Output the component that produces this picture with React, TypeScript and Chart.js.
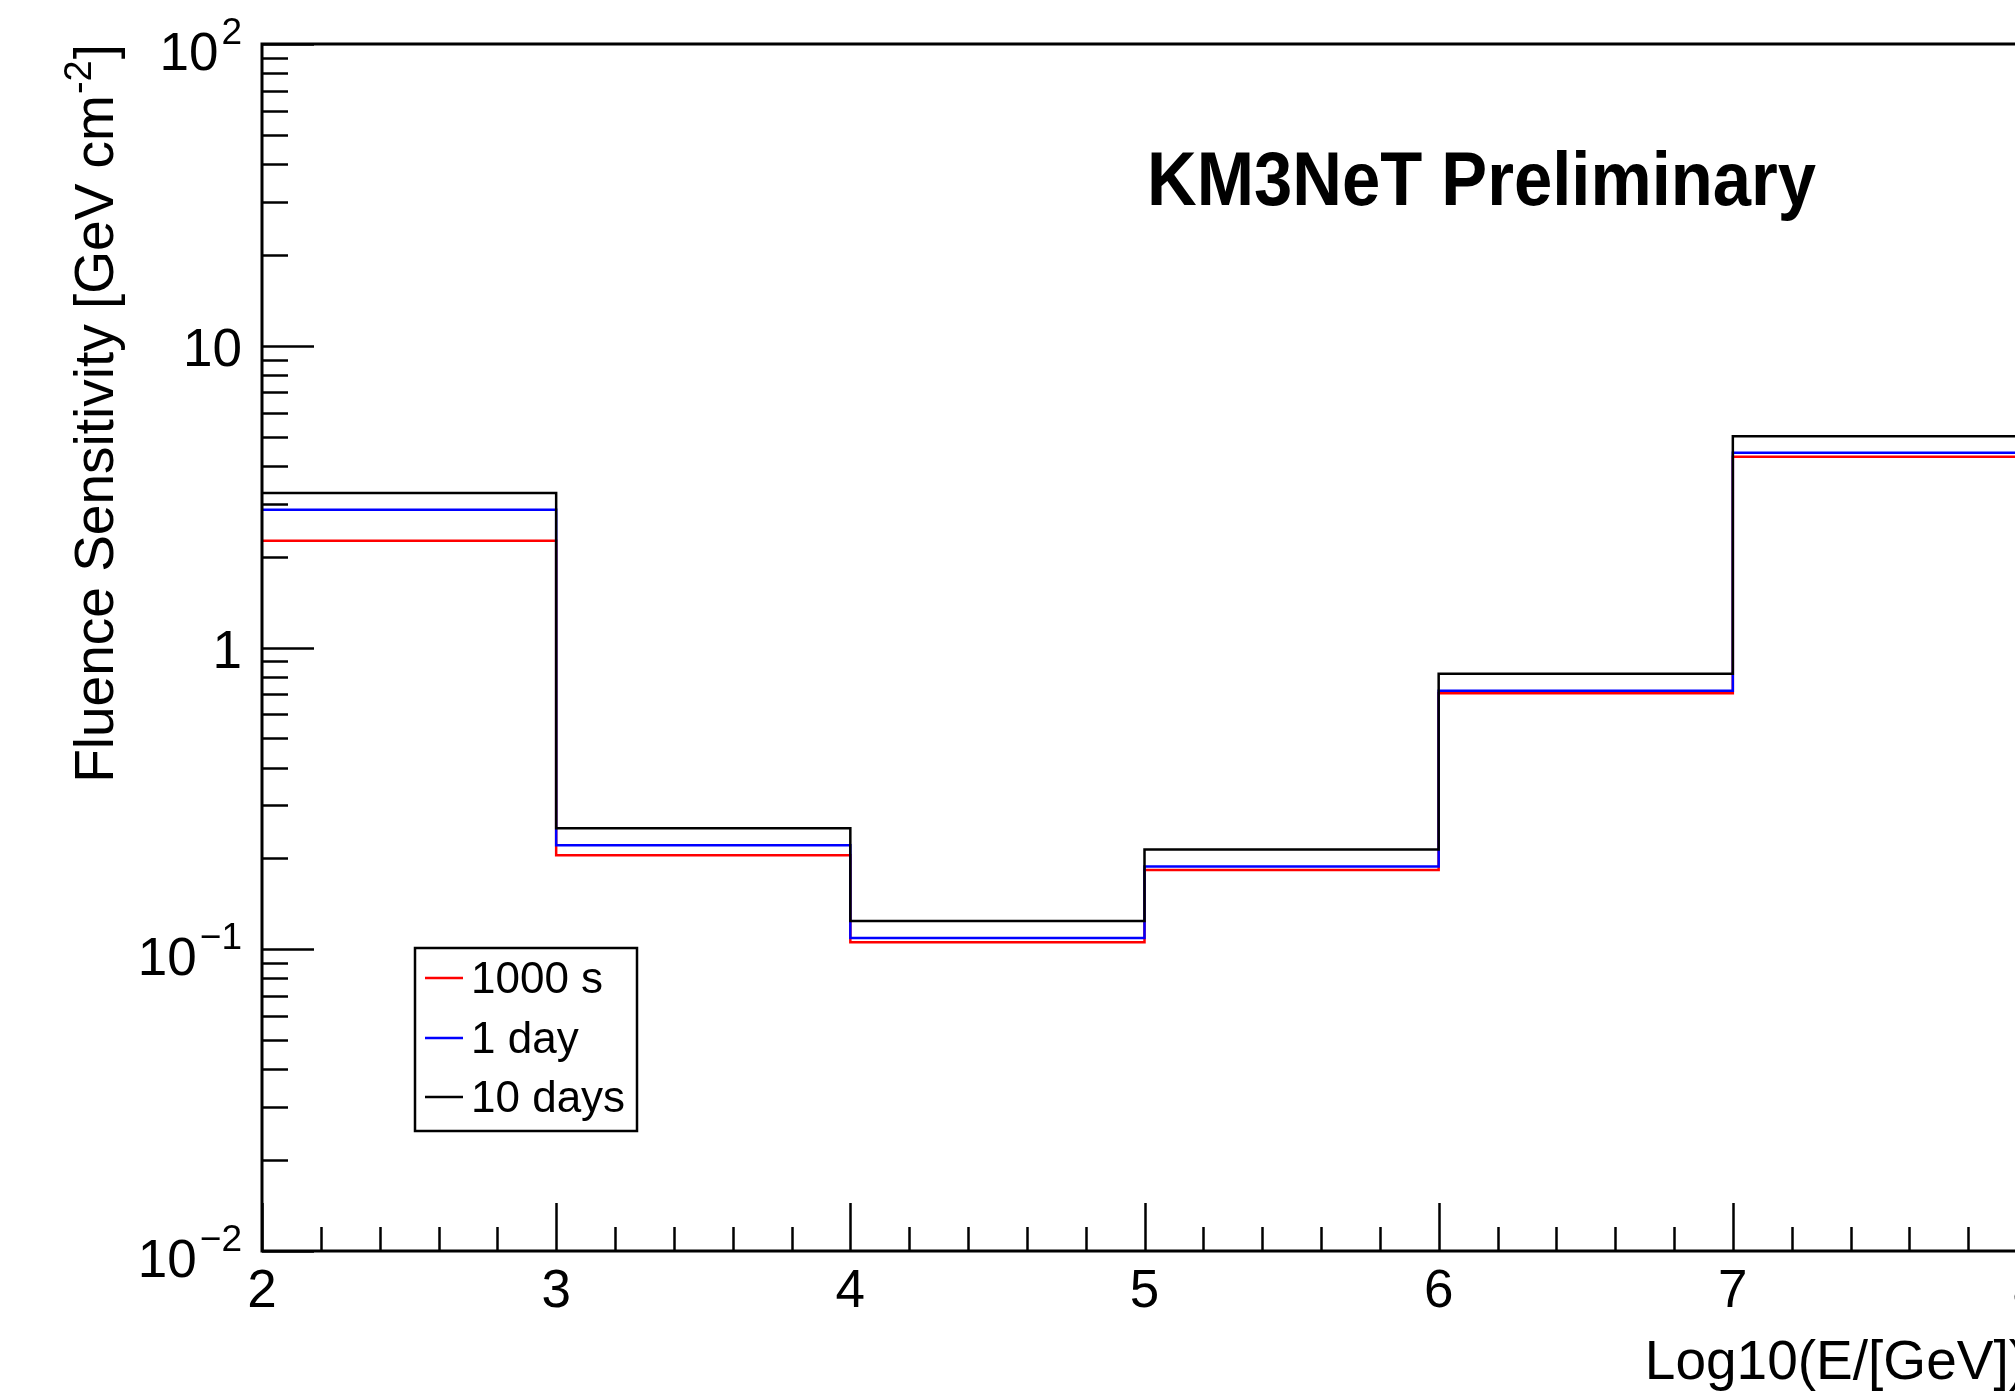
import React, { useEffect, useRef } from "react";
import { Chart, registerables } from "chart.js";

Chart.register(...registerables);

// ---- data ----
const binEdges = [2, 3, 4, 5, 6, 7, 8];
const fluence1000s = [2.26, 0.205, 0.1054, 0.183, 0.705, 4.29];
const fluence1day = [2.86, 0.221, 0.109, 0.188, 0.719, 4.42];
const fluence10days = [3.25, 0.252, 0.124, 0.214, 0.818, 5.01];
const seriesNames = ["1000 s", "1 day", "10 days"];
const seriesColors = ["#ff0000", "#0000ff", "#000000"];

const xTickValues = [2, 3, 4, 5, 6, 7, 8];
const yTickValues = [0.01, 0.1, 1, 10, 100];
const yTickBases = ["10", "10", "1", "10", "10"];
const yTickExps = ["\u22122", "\u22121", "", "", "2"];

const xTitle = "Log10(E/[GeV])";
const yTitleMain = "Fluence Sensitivity [GeV cm";
const yTitleSup = "-2";
const yTitleEnd = "]";
const watermark = "KM3NeT Preliminary";

const FONT = '"Liberation Sans", Arial, Helvetica, sans-serif';
const CANVAS_W = 2100;
const CANVAS_H = 1400;

const toSteps = (vals: number[]) =>
  binEdges.map((e, i) => ({ x: e, y: vals[Math.min(i, vals.length - 1)] }));

const decorPlugin = {
  id: "rootDecor",
  afterDraw(chart: any) {
    const ctx: CanvasRenderingContext2D = chart.ctx;
    const { left, right, top, bottom } = chart.chartArea;
    const xs = chart.scales.x;
    const ys = chart.scales.y;
    ctx.save();
    ctx.strokeStyle = "#000";
    ctx.fillStyle = "#000";

    // frame
    ctx.lineWidth = 3;
    ctx.strokeRect(left, top, right - left, bottom - top);

    // y ticks (inside)
    ctx.lineWidth = 2.5;
    for (let e = -2; e <= 2; e++) {
      for (let m = 1; m <= 9; m++) {
        const v = m * Math.pow(10, e);
        if (v > 100.0001) break;
        const py = Math.round(ys.getPixelForValue(v)) + 0.5;
        const len = m === 1 ? 52 : 26;
        ctx.beginPath();
        ctx.moveTo(left, py);
        ctx.lineTo(left + len, py);
        ctx.stroke();
      }
    }
    // x ticks (inside)
    for (let k = 0; k <= 30; k++) {
      const v = 2 + k * 0.2;
      const px = Math.round(xs.getPixelForValue(v)) + 0.5;
      const len = k % 5 === 0 ? 48 : 24;
      ctx.beginPath();
      ctx.moveTo(px, bottom);
      ctx.lineTo(px, bottom - len);
      ctx.stroke();
    }

    // x tick labels
    ctx.font = `53px ${FONT}`;
    ctx.textAlign = "center";
    ctx.textBaseline = "alphabetic";
    xTickValues.forEach((v) => {
      ctx.fillText(String(v), xs.getPixelForValue(v), bottom + 56);
    });

    // y tick labels (with superscripts)
    const labelRight = left - 20;
    yTickValues.forEach((v, i) => {
      const py = ys.getPixelForValue(v);
      const base = yTickBases[i];
      const exp = yTickExps[i];
      ctx.textAlign = "left";
      if (exp) {
        ctx.font = `37px ${FONT}`;
        const we = ctx.measureText(exp).width;
        ctx.font = `53px ${FONT}`;
        const wb = ctx.measureText(base).width;
        const x0 = labelRight - we - wb - 3;
        const baseY = py + 26;
        ctx.fillText(base, x0, baseY);
        ctx.font = `37px ${FONT}`;
        ctx.fillText(exp, x0 + wb + 3, baseY - 26);
      } else {
        ctx.font = `53px ${FONT}`;
        const wb = ctx.measureText(base).width;
        ctx.fillText(base, labelRight - wb, py + 20);
      }
    });

    // x title
    ctx.font = `55px ${FONT}`;
    ctx.textAlign = "right";
    ctx.fillText(xTitle, right, 1379);

    // y title (rotated, right aligned at the top of the axis)
    ctx.save();
    ctx.translate(113, top);
    ctx.rotate(-Math.PI / 2);
    ctx.textAlign = "left";
    ctx.font = `55px ${FONT}`;
    const w1 = ctx.measureText(yTitleMain).width;
    const w3 = ctx.measureText(yTitleEnd).width;
    ctx.font = `38px ${FONT}`;
    const w2 = ctx.measureText(yTitleSup).width;
    const total = w1 + w2 + w3 + 2;
    let cx = -total;
    ctx.font = `55px ${FONT}`;
    ctx.fillText(yTitleMain, cx, 0);
    cx += w1 + 1;
    ctx.font = `38px ${FONT}`;
    ctx.fillText(yTitleSup, cx, -22);
    cx += w2 + 1;
    ctx.font = `55px ${FONT}`;
    ctx.fillText(yTitleEnd, cx, 0);
    ctx.restore();

    // watermark text
    ctx.font = `bold 70px ${FONT}`;
    const mw = ctx.measureText(watermark).width;
    const size = (70 * 669) / mw;
    ctx.save();
    ctx.translate(1147, 205);
    ctx.scale(1, 1.1);
    ctx.font = `bold ${size.toFixed(1)}px ${FONT}`;
    ctx.textAlign = "left";
    ctx.fillText(watermark, 0, 0);
    ctx.restore();

    // legend
    const lx0 = 415, ly0 = 948, lx1 = 637, ly1 = 1131;
    ctx.fillStyle = "#fff";
    ctx.fillRect(lx0, ly0, lx1 - lx0, ly1 - ly0);
    ctx.lineWidth = 2.5;
    ctx.strokeStyle = "#000";
    ctx.strokeRect(lx0, ly0, lx1 - lx0, ly1 - ly0);
    const rowsY = [978, 1038, 1097];
    ctx.font = `44px ${FONT}`;
    ctx.textAlign = "left";
    seriesNames.forEach((name, i) => {
      const cy = rowsY[i];
      ctx.strokeStyle = seriesColors[i];
      ctx.lineWidth = 2.5;
      ctx.beginPath();
      ctx.moveTo(425, cy);
      ctx.lineTo(463, cy);
      ctx.stroke();
      ctx.fillStyle = "#000";
      ctx.fillText(name, 471, cy + 15);
    });

    ctx.restore();
  },
};

export default function App() {
  const canvasRef = useRef<HTMLCanvasElement | null>(null);

  useEffect(() => {
    const canvas = canvasRef.current;
    if (!canvas) return;
    const seriesValues = [fluence1000s, fluence1day, fluence10days];
    const chart = new Chart(canvas, {
      type: "line",
      data: {
        datasets: seriesNames.map((name, i) => ({
          label: name,
          data: toSteps(seriesValues[i]),
          borderColor: seriesColors[i],
          backgroundColor: seriesColors[i],
          borderWidth: 2.5,
          pointRadius: 0,
          pointHoverRadius: 0,
          fill: false,
          stepped: "before" as const,
          order: 2 - i,
        })),
      },
      options: {
        responsive: false,
        animation: false,
        devicePixelRatio: 1,
        events: [],
        layout: {
          padding: { left: 262, top: 44, right: CANVAS_W - 2027, bottom: CANVAS_H - 1251 },
        },
        plugins: {
          legend: { display: false },
          tooltip: { enabled: false },
          title: { display: false },
        },
        scales: {
          x: {
            type: "linear",
            min: 2,
            max: 8,
            display: false,
          },
          y: {
            type: "logarithmic",
            min: 0.01,
            max: 100,
            display: false,
          },
        },
      },
      plugins: [decorPlugin],
    });
    return () => chart.destroy();
  }, []);

  return (
    <div
      style={{
        position: "fixed",
        left: 0,
        top: 0,
        width: 2015,
        height: 1400,
        overflow: "hidden",
        background: "#fff",
      }}
    >
      <canvas
        ref={canvasRef}
        width={CANVAS_W}
        height={CANVAS_H}
        style={{ display: "block", width: CANVAS_W, height: CANVAS_H }}
      />
    </div>
  );
}
